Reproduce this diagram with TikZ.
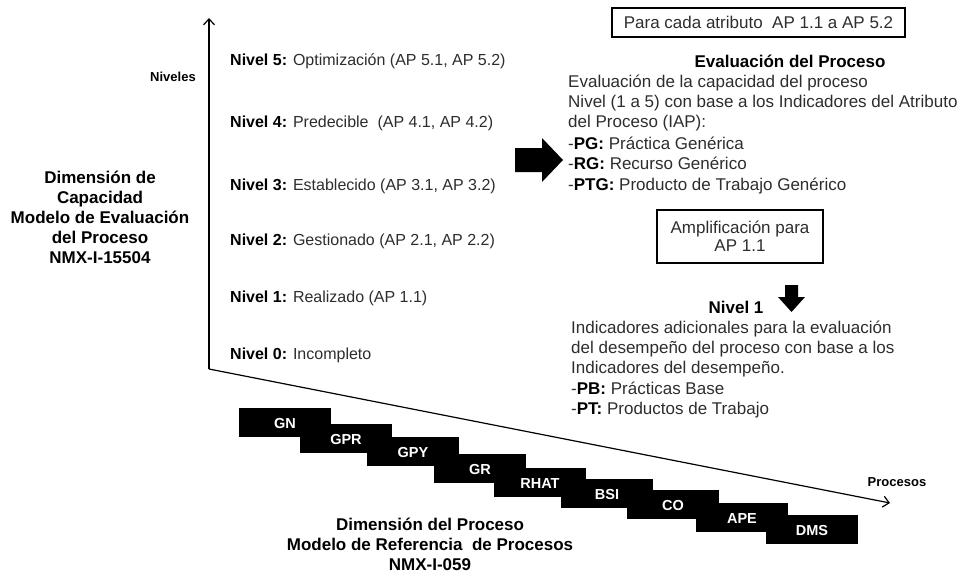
\documentclass[tikz,border=0pt]{standalone}
\usepackage{fontspec}
\setmainfont{Liberation Sans}
\usetikzlibrary{arrows.meta}
\definecolor{txtgray}{RGB}{45,45,45}
\begin{document}
\begin{tikzpicture}[x=1pt,y=-1pt,
  body/.style={inner sep=0pt, anchor=base west, text=txtgray, font=\fontsize{17}{20}\selectfont},
  lvl/.style={inner sep=0pt, anchor=base west, text=txtgray, font=\fontsize{16}{19}\selectfont},
  btitle/.style={inner sep=0pt, anchor=base, font=\fontsize{17}{20}\selectfont\bfseries},
  axislbl/.style={inner sep=0pt, anchor=base, font=\fontsize{13}{15}\selectfont\bfseries},
  framebox/.style={draw, line width=1.5pt, inner sep=0pt, align=center, text=txtgray, font=\fontsize{17}{18}\selectfont},
  procblk/.style={fill=black, minimum width=92pt, minimum height=29pt, inner sep=0pt},
  proclbl/.style={inner sep=0pt, anchor=base, text=white, font=\fontsize{14.5}{16}\selectfont\bfseries},
  axis/.style={line width=1.2pt, -{Straight Barb[length=6pt,width=11pt,line width=1.2pt]}},
  bigarrow/.style={fill=black}
]
\useasboundingbox (0,0) rectangle (968,575);

% axes
\coordinate (O) at (209,369);
\coordinate (ytop) at (209,18);
\coordinate (xend) at (890,503);
\draw[axis] (O) -- (ytop);
\draw[axis] (O) -- (xend);
\node[axislbl] (niveles) at (173,82) {Niveles};
\node[axislbl] (procesos) at (897,486) {Procesos};

% capacity dimension title
\node[btitle] (cap1) at (100,183) {Dimensión de};
\node[btitle] (cap2) at (100,203) {Capacidad};
\node[btitle] (cap3) at (100,223) {Modelo de Evaluación};
\node[btitle] (cap4) at (100,243) {del Proceso};
\node[btitle] (cap5) at (100,263) {NMX-I-15504};

% levels
\node[lvl] (n5) at (230,66) {\textcolor{black}{\bfseries Nivel 5:} Optimización (AP 5.1, AP 5.2)};
\node[lvl] (n4) at (230,128) {\textcolor{black}{\bfseries Nivel 4:} Predecible\ \ (AP 4.1, AP 4.2)};
\node[lvl] (n3) at (230,190) {\textcolor{black}{\bfseries Nivel 3:} Establecido (AP 3.1, AP 3.2)};
\node[lvl] (n2) at (230,245) {\textcolor{black}{\bfseries Nivel 2:} Gestionado (AP 2.1, AP 2.2)};
\node[lvl] (n1) at (230,302) {\textcolor{black}{\bfseries Nivel 1:} Realizado (AP 1.1)};
\node[lvl] (n0) at (230,359) {\textcolor{black}{\bfseries Nivel 0:} Incompleto};

% big right arrow
\fill[bigarrow] (515,148) -- (542,148) -- (542,138) -- (563,160) -- (542,182) -- (542,172) -- (515,172) -- cycle;

% upper right block
\node[framebox, minimum width=293pt, minimum height=29pt] (attr) at (758.5,22.5) {Para cada atributo\ \ AP 1.1 a AP 5.2};
\node[btitle] (evh) at (790,68) {Evaluación del Proceso};
\node[body] (ev1) at (568,88) {Evaluación de la capacidad del proceso};
\node[body] (ev2) at (568,108) {Nivel (1 a 5) con base a los Indicadores del Atributo};
\node[body] (ev3) at (568,128) {del Proceso (IAP):};
\node[body] (ev4) at (568,149) {-\textcolor{black}{\bfseries PG:} Práctica Genérica};
\node[body] (ev5) at (568,169) {-\textcolor{black}{\bfseries RG:} Recurso Genérico};
\node[body] (ev6) at (568,190) {-\textcolor{black}{\bfseries PTG:} Producto de Trabajo Genérico};

% amplification
\node[framebox, minimum width=166pt, minimum height=53pt] (ampl) at (740,236.5) {Amplificación para\\AP 1.1};
\fill[bigarrow] (785,285) -- (798,285) -- (798,297) -- (805,297) -- (791.5,312) -- (778,297) -- (785,297) -- cycle;
\node[btitle] (niv1) at (736,313) {Nivel 1};
\node[body] (am1) at (571,333) {Indicadores adicionales para la evaluación};
\node[body] (am2) at (571,353) {del desempeño del proceso con base a los};
\node[body] (am3) at (571,373) {Indicadores del desempeño.};
\node[body] (am4) at (571,394) {-\textcolor{black}{\bfseries PB:} Prácticas Base};
\node[body] (am5) at (571,414) {-\textcolor{black}{\bfseries PT:} Productos de Trabajo};

% process blocks
\foreach \nm/\lbl/\x/\y in {b1/GN/285/423, b2/GPR/346/439, b3/GPY/413/452, b4/GR/480/469,
  b5/RHAT/540/483, b6/BSI/607/494, b7/CO/673/505, b8/APE/742/518, b9/DMS/812/530}{
  \node[procblk] (\nm) at (\x,\y-1) {};
}
\foreach \nm/\lbl/\x/\y in {b1/GN/285/423, b2/GPR/346/439, b3/GPY/413/452, b4/GR/480/469,
  b5/RHAT/540/483, b6/BSI/607/494, b7/CO/673/505, b8/APE/742/518, b9/DMS/812/530}{
  \node[proclbl] (\nm t) at (\x,\y+5) {\lbl};
}

% process dimension title
\node[btitle] (pd1) at (430,530) {Dimensión del Proceso};
\node[btitle] (pd2) at (430,550) {Modelo de Referencia\ \ de Procesos};
\node[btitle] (pd3) at (430,570) {NMX-I-059};
\end{tikzpicture}
\end{document}
